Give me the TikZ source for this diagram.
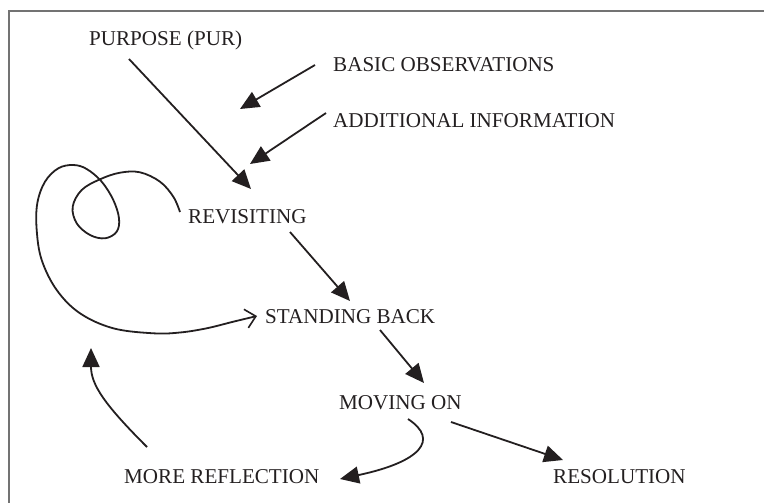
\documentclass[tikz,border=0pt]{standalone}
\usepackage{fontspec}
\setmainfont{Liberation Serif}
\usetikzlibrary{arrows.meta}
\definecolor{ink}{RGB}{35,31,32}
\definecolor{framec}{RGB}{115,115,115}
\begin{document}
\begin{tikzpicture}[x=1pt,y=-1pt,
  lbl/.style={anchor=base west,inner sep=0pt,text=ink,font=\fontsize{21.1}{24}\selectfont},
  conn/.style={draw=ink,line width=1.8pt},
  tri/.style={conn,-{Triangle[length=19pt,width=17pt]}},
  barb/.style={conn,-{Straight Barb[length=10pt,width=19pt,line width=1.6pt]}},
  framel/.style={draw=framec,line width=1.4pt}]
\useasboundingbox (0,0) rectangle (764,503);
\draw[framel] (764,11) -- (9,11) -- (9,503);
% labels
\node[lbl] (pur) at (89,46) {PURPOSE (PUR)};
\node[lbl] (bas) at (333,72) {BASIC OBSERVATIONS};
\node[lbl] (add) at (333,128) {ADDITIONAL INFORMATION};
\node[lbl] (rev) at (188,223) {REVISITING};
\node[lbl] (sta) at (265,323) {STANDING BACK};
\node[lbl] (mov) at (339,409) {MOVING ON};
\node[lbl] (mor) at (124,483) {MORE REFLECTION};
\node[lbl] (res) at (553,483) {RESOLUTION};
% connector end points
\coordinate (purS) at (129,59);  \coordinate (purT) at (251,189);
\coordinate (basS) at (315,65);  \coordinate (basT) at (240,109);
\coordinate (addS) at (326,113); \coordinate (addT) at (250,164);
\coordinate (revS) at (290,232); \coordinate (revT) at (350,301);
\coordinate (staS) at (380,330); \coordinate (staT) at (424,383);
\coordinate (movS) at (451,422); \coordinate (movT) at (563,460);
\coordinate (mov2S) at (408,419); \coordinate (mov2T) at (340,479);
\coordinate (morS) at (147,447); \coordinate (morT) at (91,348);
\coordinate (loopS) at (180,212); \coordinate (loopT) at (257,316);
% straight arrows
\draw[tri] (purS) -- (purT);
\draw[tri] (basS) -- (basT);
\draw[tri] (addS) -- (addT);
\draw[tri] (revS) -- (revT);
\draw[tri] (staS) -- (staT);
\draw[tri] (movS) -- (movT);
% curved arrows
\draw[tri] (mov2S) .. controls (440,440) and (420,462) .. (mov2T);
\draw[tri] (morS) .. controls (105,405) and (91,385) .. (morT);
% loop
\draw[barb] plot[smooth,tension=0.6] coordinates {
  (loopS) (173.3,196.7) (160,181.7) (140,172.3) (120,172.7) (100,179.3)
  (81.7,190) (72.7,206.7) (76.7,223.3) (90,235) (105,238.3) (116.7,231.7)
  (119,218.3) (113.3,200) (101.7,181.7) (86.7,169) (73.3,165) (58.3,168.3)
  (45,181.7) (37.3,203.3) (36.7,230) (41.7,260) (56.7,290) (80,313.3)
  (113.3,328.3) (153.3,333.3) (180,332.5) (206.7,328.3) (233.3,321.7) (loopT)};
\end{tikzpicture}
\end{document}
